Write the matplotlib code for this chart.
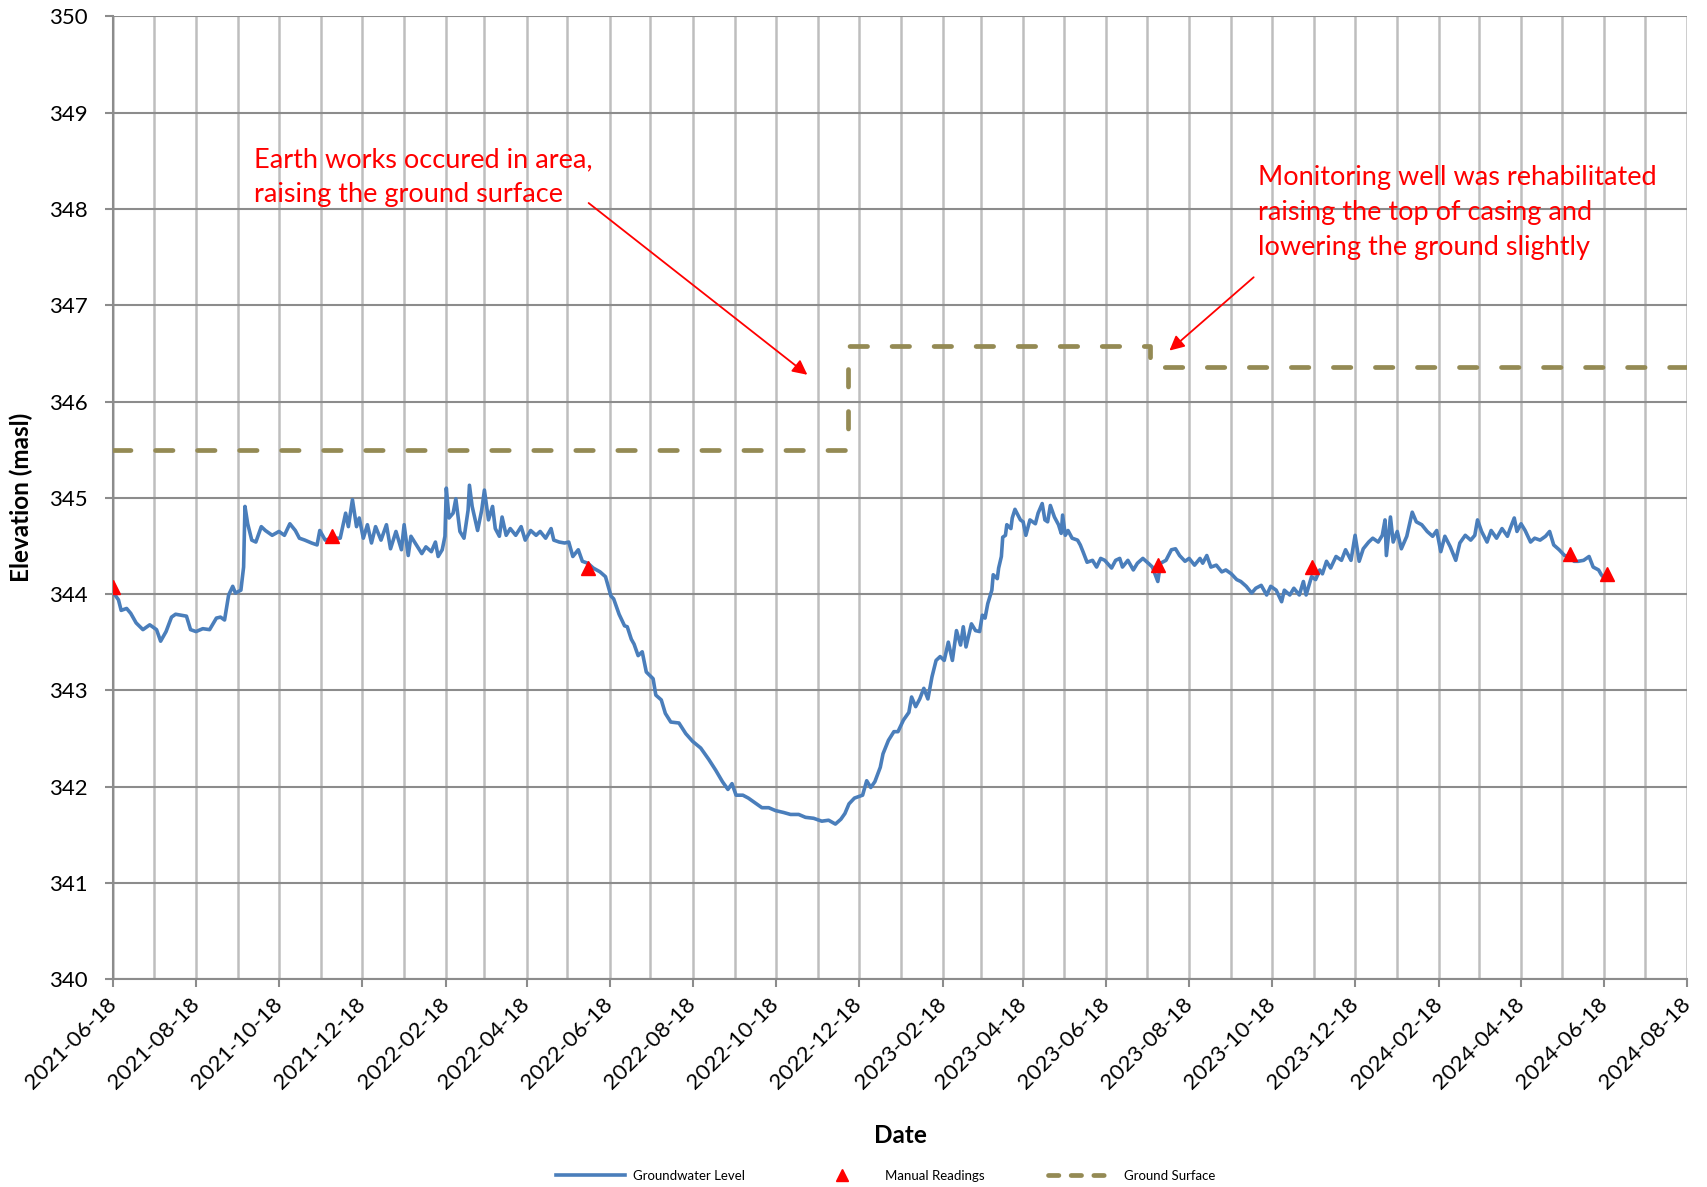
import numpy as np
import pandas as pd
import matplotlib
matplotlib.use("Agg")
import matplotlib.pyplot as plt
import matplotlib.dates as mdates
from matplotlib.lines import Line2D

plt.rcParams["font.family"] = ["Lato", "DejaVu Sans"]

START = pd.Timestamp("2021-06-18")
END = pd.Timestamp("2024-08-18")

# logger record: days since 2021-06-18 and water elevation (masl)
gw_days = [
    0, 4, 6, 10, 13, 17, 22, 27, 32, 35, 39, 43, 46, 54, 57, 61, 66, 71, 76, 79,
    82, 85, 88, 90, 94, 96, 97, 99, 102, 105, 109, 112, 117, 122, 126, 130, 134, 137, 141, 146,
    150, 152, 156, 161, 167, 171, 173, 176, 179, 181, 184, 187, 190, 193, 197, 201, 204, 208, 212, 214,
    217, 219, 223, 227, 230, 234, 237, 239, 242, 244, 245, 247, 250, 252, 255, 258, 261, 262, 264, 268,
    271, 273, 276, 279, 281, 284, 286, 289, 292, 296, 300, 303, 307, 311, 314, 318, 322, 324, 328, 332,
    335, 338, 342, 345, 349, 353, 358, 362, 364, 366, 368, 372, 376, 378, 381, 383, 386, 389, 392, 397,
    399, 403, 406, 410, 416, 421, 426, 432, 438, 443, 448, 452, 455, 458, 463, 467, 472, 477, 482, 487,
    493, 498, 504, 509, 515, 521, 526, 531, 535, 538, 541, 545, 547, 551, 554, 557, 560, 564, 566, 570,
    574, 577, 581, 585, 587, 590, 593, 596, 599, 602, 605, 608, 611, 614, 617, 620, 623, 625, 627, 631,
    634, 637, 639, 641, 643, 646, 647, 650, 651, 653, 654, 656, 657, 660, 661, 663, 667, 669, 671, 674,
    678, 680, 683, 685, 687, 689, 692, 695, 697, 698, 700, 702, 705, 709, 711, 713, 716, 720, 723, 726,
    729, 734, 737, 740, 742, 746, 750, 753, 757, 761, 764, 768, 770, 774, 778, 781, 784, 788, 791, 795,
    799, 801, 804, 807, 811, 815, 818, 822, 826, 829, 833, 837, 840, 844, 848, 851, 855, 859, 861, 865,
    868, 872, 875, 877, 881, 884, 887, 889, 892, 895, 899, 903, 906, 910, 913, 916, 919, 923, 926, 930,
    933, 935, 936, 939, 941, 944, 947, 951, 955, 958, 962, 966, 970, 973, 976, 979, 983, 987, 990, 994,
    998, 1001, 1003, 1006, 1010, 1013, 1017, 1021, 1025, 1027, 1030, 1032, 1035, 1038, 1042, 1045, 1049, 1053, 1056, 1059,
    1063, 1067, 1070, 1074, 1077, 1081, 1085, 1088, 1092, 1094, 1097,
]
gw_level = [
    344.02, 343.94, 343.83, 343.85, 343.80, 343.70, 343.63, 343.68, 343.63, 343.51, 343.61, 343.76, 343.79, 343.77, 343.63, 343.61, 343.64, 343.63, 343.75, 343.76,
    343.73, 343.99, 344.08, 344.01, 344.04, 344.28, 344.91, 344.73, 344.56, 344.54, 344.70, 344.66, 344.61, 344.65, 344.61, 344.73, 344.66, 344.58, 344.56, 344.53,
    344.51, 344.66, 344.56, 344.58, 344.58, 344.84, 344.70, 344.98, 344.70, 344.79, 344.58, 344.72, 344.53, 344.70, 344.56, 344.72, 344.47, 344.65, 344.46, 344.72,
    344.40, 344.60, 344.51, 344.42, 344.49, 344.44, 344.54, 344.39, 344.46, 344.60, 345.10, 344.79, 344.84, 344.99, 344.65, 344.58, 344.87, 345.13, 344.91, 344.66,
    344.87, 345.08, 344.77, 344.91, 344.68, 344.60, 344.80, 344.61, 344.68, 344.61, 344.70, 344.56, 344.66, 344.61, 344.65, 344.58, 344.68, 344.56, 344.54, 344.53,
    344.54, 344.39, 344.46, 344.34, 344.32, 344.27, 344.23, 344.18, 344.08, 343.98, 343.95, 343.79, 343.67, 343.66, 343.53, 343.48, 343.36, 343.40, 343.19, 343.12,
    342.95, 342.90, 342.76, 342.67, 342.66, 342.55, 342.47, 342.40, 342.28, 342.17, 342.05, 341.97, 342.03, 341.91, 341.91, 341.88, 341.83, 341.78, 341.78, 341.75,
    341.73, 341.71, 341.71, 341.68, 341.67, 341.64, 341.65, 341.61, 341.66, 341.72, 341.82, 341.88, 341.89, 341.91, 342.06, 341.99, 342.05, 342.20, 342.34, 342.48,
    342.57, 342.57, 342.69, 342.77, 342.93, 342.83, 342.91, 343.02, 342.91, 343.14, 343.31, 343.35, 343.31, 343.50, 343.31, 343.62, 343.47, 343.66, 343.45, 343.69,
    343.62, 343.61, 343.78, 343.75, 343.90, 344.04, 344.20, 344.16, 344.27, 344.39, 344.59, 344.61, 344.72, 344.68, 344.79, 344.88, 344.77, 344.75, 344.61, 344.77,
    344.73, 344.84, 344.94, 344.77, 344.75, 344.92, 344.80, 344.72, 344.63, 344.82, 344.61, 344.66, 344.58, 344.56, 344.51, 344.44, 344.33, 344.35, 344.28, 344.37,
    344.35, 344.27, 344.35, 344.37, 344.28, 344.35, 344.25, 344.32, 344.37, 344.32, 344.28, 344.13, 344.32, 344.35, 344.46, 344.47, 344.40, 344.34, 344.37, 344.30,
    344.37, 344.32, 344.40, 344.28, 344.30, 344.23, 344.25, 344.21, 344.15, 344.13, 344.08, 344.01, 344.06, 344.09, 343.99, 344.08, 344.04, 343.92, 344.04, 343.99,
    344.06, 343.99, 344.13, 343.99, 344.18, 344.15, 344.25, 344.21, 344.34, 344.27, 344.39, 344.35, 344.46, 344.35, 344.61, 344.34, 344.47, 344.54, 344.58, 344.54,
    344.61, 344.77, 344.40, 344.80, 344.54, 344.65, 344.47, 344.60, 344.85, 344.75, 344.72, 344.65, 344.60, 344.66, 344.44, 344.60, 344.49, 344.35, 344.53, 344.61,
    344.56, 344.61, 344.77, 344.65, 344.54, 344.66, 344.58, 344.68, 344.60, 344.68, 344.79, 344.65, 344.73, 344.66, 344.54, 344.58, 344.56, 344.60, 344.65, 344.51,
    344.46, 344.40, 344.39, 344.34, 344.34, 344.35, 344.39, 344.28, 344.25, 344.20, 344.15,
]

manual_days = [0, 161, 349, 768, 881, 1071, 1098]
manual_level = [344.07, 344.60, 344.27, 344.30, 344.28, 344.42, 344.21]

ground_days = [0, 540, 540, 762, 762, 1157]
ground_level = [345.50, 345.50, 346.58, 346.58, 346.36, 346.36]


def to_dates(days):
    return START + pd.to_timedelta(np.asarray(days, dtype=float), unit="D")


fig = plt.figure(figsize=(17.07, 11.87), dpi=100)
ax = fig.add_axes([0.0662, 0.1752, 0.9221, 0.8109])

gw_col = "#4A7EBB"
gs_col = "#948A54"

ax.plot(to_dates(gw_days), gw_level, color=gw_col, lw=2.6, zorder=3,
        label="Groundwater Level")
ax.plot(to_dates(manual_days), manual_level, ls="none", marker="^", ms=10,
        color="red", zorder=4, label="Manual Readings")
ax.plot(to_dates(ground_days), ground_level, color=gs_col, lw=3.4,
        ls=(0, (3.7, 5.2)), dash_capstyle="round", zorder=3,
        label="Ground Surface")

ax.set_xlim(START, END)
ax.set_ylim(340, 350)
ax.set_yticks(np.arange(340, 351, 1))

ax.xaxis.set_major_locator(mdates.MonthLocator(bymonth=[2, 4, 6, 8, 10, 12], bymonthday=18))
ax.xaxis.set_minor_locator(mdates.MonthLocator(bymonthday=18))
ax.xaxis.set_major_formatter(mdates.DateFormatter("%Y-%m-%d"))

ax.grid(axis="x", which="both", color="#BEBEBE", lw=1.8, zorder=0)
ax.grid(axis="y", which="major", color="#8C8C8C", lw=1.5, zorder=0)
ax.set_axisbelow(True)

for s in ["top", "right"]:
    ax.spines[s].set_visible(False)
for s in ["left", "bottom"]:
    ax.spines[s].set_color("#8C8C8C")
    ax.spines[s].set_linewidth(1.5)

ax.tick_params(axis="y", length=6, width=1.5, color="#8C8C8C", pad=12, labelsize=16)
ax.tick_params(axis="x", which="major", length=6, width=1.5, color="#8C8C8C",
               pad=10, labelsize=16)
ax.tick_params(axis="x", which="minor", length=0)
for lab in ax.get_xticklabels():
    lab.set_rotation(45)
    lab.set_ha("right")
    lab.set_va("center")
    lab.set_rotation_mode("anchor")

ax.set_ylabel("Elevation (masl)", fontsize=17.5, fontweight="bold", labelpad=12)
ax.set_xlabel("Date", fontsize=17.5, fontweight="bold", labelpad=22)

# annotations
ax.text(to_dates([104])[0], 348.33,
        "Earth works occured in area,\nraising the ground surface",
        color="red", fontsize=19.5, ha="left", va="center", linespacing=1.5)
ax.annotate("", xy=(to_dates([512])[0], 346.26), xytext=(to_dates([348])[0], 348.08),
            arrowprops=dict(arrowstyle="-|>", color="red", lw=1.3, mutation_scale=22))
ax.text(to_dates([842])[0], 347.96,
        "Monitoring well was rehabilitated\nraising the top of casing and\nlowering the ground slightly",
        color="red", fontsize=19.5, ha="left", va="center", linespacing=1.5)
ax.annotate("", xy=(to_dates([775])[0], 346.51), xytext=(to_dates([840])[0], 347.31),
            arrowprops=dict(arrowstyle="-|>", color="red", lw=1.3, mutation_scale=22))

handles = [
    Line2D([], [], color=gw_col, lw=2.6),
    Line2D([], [], ls="none", marker="^", ms=8, color="red"),
    Line2D([], [], color=gs_col, lw=3.4, ls=(0, (2.2, 2.6)), dash_capstyle="round"),
]
fig.legend(handles, ["Groundwater Level", "Manual Readings", "Ground Surface"],
           loc="center", bbox_to_anchor=(0.519, 0.0093), ncol=3, frameon=False,
           fontsize=9.5, handlelength=5.2, handletextpad=0.6, columnspacing=4.8)

fig.savefig("out.png", dpi=100)
